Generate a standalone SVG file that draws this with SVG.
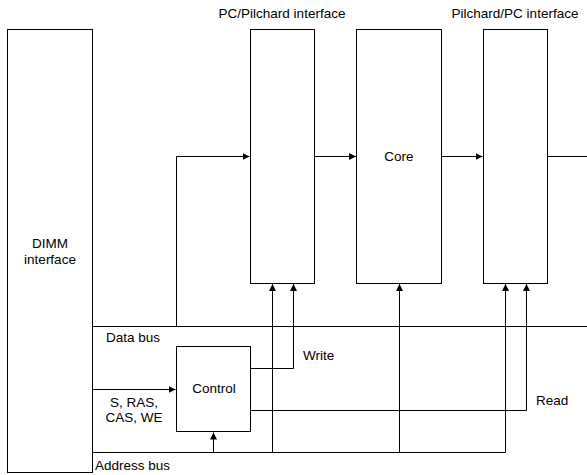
<svg xmlns="http://www.w3.org/2000/svg" width="587" height="475" viewBox="0 0 587 475">
<defs>
<marker id="arr" markerWidth="8" markerHeight="8" refX="7" refY="4" orient="auto" markerUnits="userSpaceOnUse">
<path d="M0,0.5 L7,4 L0,7.5 Z" fill="#000"/>
</marker>
<style>
.box{fill:#fff;stroke:#000;stroke-width:1}
.ln{fill:none;stroke:#000;stroke-width:1}
.t{font-family:"Liberation Sans",Arial,sans-serif;font-size:13.5px;fill:#000}
.m{text-anchor:middle}
</style>
</defs>
<rect width="587" height="475" fill="#fff"/>
<g id="connectors">
<path class="ln" d="M92.5,326.5 H587"/>
<path class="ln" d="M92.5,452.5 H505.5"/>
<path class="ln" d="M176.5,326.5 V156.5 H249.5" marker-end="url(#arr)"/>
<path class="ln" d="M314.5,156.5 H356" marker-end="url(#arr)"/>
<path class="ln" d="M441.5,156.5 H482.5" marker-end="url(#arr)"/>
<path class="ln" d="M547.5,156.5 H587"/>
<path class="ln" d="M92.5,389.5 H175.5" marker-end="url(#arr)"/>
<path class="ln" d="M213.5,452.5 V432.5" marker-end="url(#arr)"/>
<path class="ln" d="M272.5,452.5 V284" marker-end="url(#arr)"/>
<path class="ln" d="M250.5,368.5 H293.5 V284" marker-end="url(#arr)"/>
<path class="ln" d="M399.5,452.5 V284" marker-end="url(#arr)"/>
<path class="ln" d="M505.5,452.5 V284" marker-end="url(#arr)"/>
<path class="ln" d="M250.5,410.5 H526.5 V284" marker-end="url(#arr)"/>
</g>
<g id="dimm">
<rect class="box" x="7.5" y="29.5" width="85" height="443"/>
<text class="t m" x="50" y="248">DIMM</text>
<text class="t m" x="50" y="264">interface</text>
</g>
<g id="pc-pilchard">
<rect class="box" x="250.5" y="29.5" width="64" height="254"/>
<text class="t m" x="282" y="18">PC/Pilchard interface</text>
</g>
<g id="core">
<rect class="box" x="356.5" y="29.5" width="85" height="254"/>
<text class="t m" x="399" y="161">Core</text>
</g>
<g id="pilchard-pc">
<rect class="box" x="483.5" y="29.5" width="64" height="254"/>
<text class="t m" x="515" y="18">Pilchard/PC interface</text>
</g>
<g id="control">
<rect class="box" x="176.5" y="346.5" width="74" height="85"/>
<text class="t m" x="214" y="393">Control</text>
</g>
<g id="labels">
<text class="t" x="106" y="342">Data bus</text>
<text class="t m" x="134" y="407">S, RAS,</text>
<text class="t m" x="134" y="422">CAS, WE</text>
<text class="t" x="95" y="470">Address bus</text>
<text class="t" x="303" y="360">Write</text>
<text class="t" x="536" y="405">Read</text>
</g>
</svg>
